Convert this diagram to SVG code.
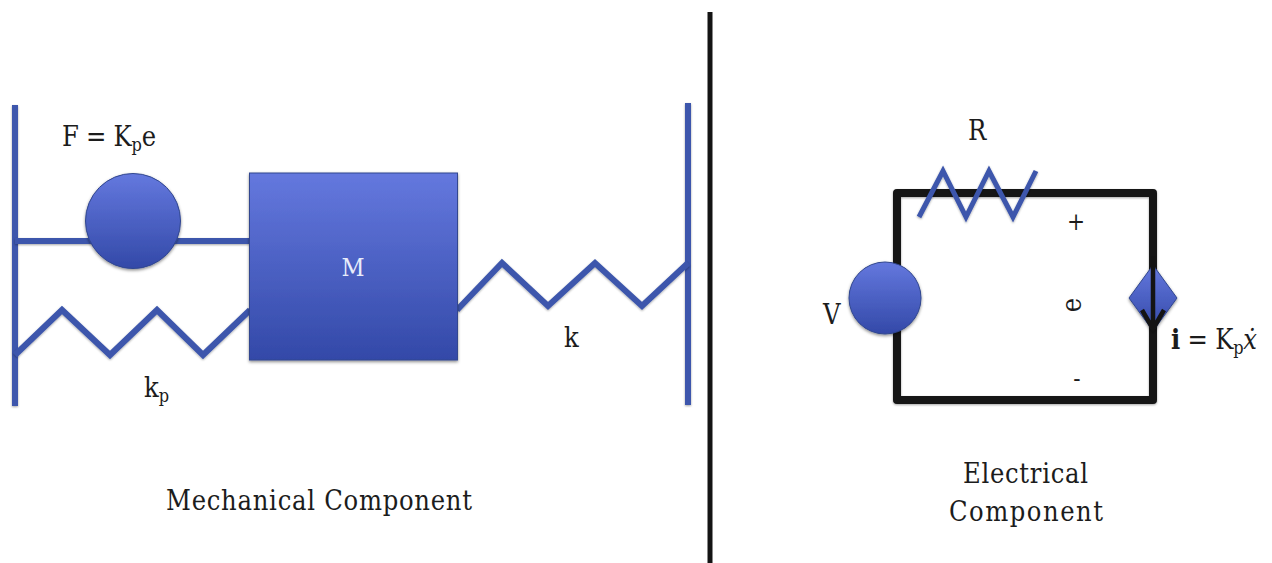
<svg xmlns="http://www.w3.org/2000/svg" width="1272" height="563" viewBox="0 0 1272 563">
<style>
text{font-family:"DejaVu Serif Condensed","DejaVu Serif","Liberation Serif",serif;font-size:27px;fill:#1c1c1c}
.sub{font-size:18px}
.b{fill:none;stroke:#3c56ac;stroke-width:6;stroke-linejoin:miter;filter:url(#ls)}
.k{fill:none;stroke:#141414;stroke-width:8;stroke-linejoin:round;filter:url(#ls)}
.div{fill:none;stroke:#141414;stroke-width:5}
.s{fill:url(#g);stroke:#30468f;stroke-width:1;filter:url(#sh)}
</style>
<defs>
<linearGradient id="g" x1="0" y1="0" x2="0" y2="1"><stop offset="0" stop-color="#6478de"/><stop offset="1" stop-color="#3349a8"/></linearGradient>
<filter id="sh" x="-10%" y="-10%" width="120%" height="125%"><feDropShadow dx="0" dy="1.500" stdDeviation="1.500" flood-color="#000" flood-opacity=".45"/></filter>
<filter id="ls" filterUnits="userSpaceOnUse" x="0" y="0" width="1272" height="563"><feDropShadow dx="0" dy="1" stdDeviation="1" flood-color="#000" flood-opacity=".35"/></filter>
</defs>
<rect width="1272" height="563" fill="#fff"/>
<g id="connectors">
<path class="div" d="M710 12V563"/>
<path class="b" d="M15 105V406"/>
<path class="b" d="M688 103V405"/>
<path class="b" d="M15 241H250"/>
<path class="b" d="M15 355L62 310L110 355L157 310L203 355L250 310"/>
<path class="b" d="M457 310L502 263L548 306L595 263L642 306L688 263"/>
<path class="k" d="M897 270V193H1153V400H897V325"/>
</g>
<g id="force"><circle class="s" cx="133" cy="221" r="47.500"/></g>
<g id="mass"><rect class="s" x="249.500" y="173" width="208" height="187"/><text x="353" y="276" text-anchor="middle" style="fill:#e8ecfb;font-size:25px">M</text></g>
<g id="resistor"><path class="b" d="M919 217L943 171L966 217L989 171L1013 217L1036 171" style="stroke-width:5"/></g>
<g id="source-v"><circle class="s" cx="885" cy="298" r="36"/></g>
<g id="source-i"><path class="s" d="M1153 265L1177 298L1153 331L1129 298Z"/><path d="M1153 256V329M1142 310L1153 329L1164 310" fill="none" stroke="#141414" stroke-width="4.500"/></g>
<g id="labels">
<text x="62" y="146" textLength="94">F = K<tspan class="sub" dy="5">p</tspan><tspan dy="-5">e</tspan></text>
<text x="144" y="397">k<tspan class="sub" dy="5">p</tspan></text>
<text x="564" y="347">k</text>
<text x="968" y="140">R</text>
<text x="1076" y="230" text-anchor="middle" style="font-size:24px">+</text>
<text transform="translate(1081 305) rotate(-90)" text-anchor="middle">e</text>
<text x="1077" y="387" text-anchor="middle" style="font-size:24px">-</text>
<text x="823" y="324">V</text>
<text x="1171" y="349" textLength="86"><tspan font-weight="bold">i</tspan> = K<tspan class="sub" dy="5">p</tspan><tspan dy="-5" font-style="italic">ẋ</tspan></text>
<text x="166" y="510" textLength="306">Mechanical Component</text>
<text x="963" y="483" textLength="125">Electrical</text>
<text x="949" y="521" textLength="154">Component</text>
</g>
</svg>
